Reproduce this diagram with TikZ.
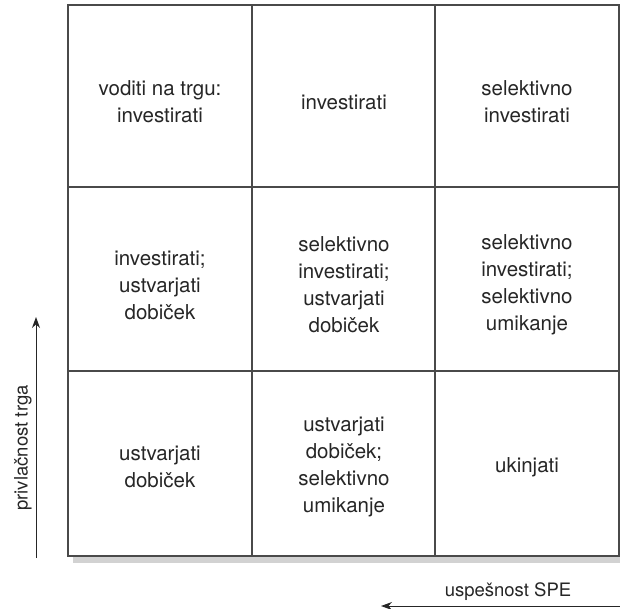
\documentclass[tikz,border=0pt]{standalone}
\usepackage{fontspec}
\setmainfont{TeX Gyre Heros}
\usetikzlibrary{arrows.meta}
\definecolor{txt}{HTML}{262626}
\definecolor{gridc}{HTML}{4A4A4A}
\definecolor{shadowc}{HTML}{D2D2D2}
\tikzset{
  cell/.style={text=txt, align=center, font=\fontsize{20.5}{27}\selectfont},
  gridline/.style={draw=gridc, line width=1.4pt},
  axis/.style={draw=txt, line width=1pt, -{Stealth[length=11pt,width=8pt]}},
  axislabel/.style={text=txt, font=\fontsize{18.5}{22}\selectfont}
}
\begin{document}
\begin{tikzpicture}[x=1pt,y=-1pt]
\useasboundingbox (0,0) rectangle (620,608);
% shadow
\fill[shadowc] (73,556) rectangle (620,563);
% grid
\coordinate (tl) at (68,5);
\coordinate (br) at (619,556);
\draw[gridline] (tl) rectangle (br);
\draw[gridline] (252,5) -- (252,556);
\draw[gridline] (435,5) -- (435,556);
\draw[gridline] (68,187) -- (619,187);
\draw[gridline] (68,371) -- (619,371);
% cells
\node[cell] (c11) at (160,102) {voditi na trgu:\\investirati};
\node[cell] (c12) at (344,102) {investirati};
\node[cell] (c13) at (527,102) {selektivno\\investirati};
\node[cell] (c21) at (160,285) {investirati;\\ustvarjati\\dobiček};
\node[cell] (c22) at (344,285) {selektivno\\investirati;\\ustvarjati\\dobiček};
\node[cell] (c23) at (527,285) {selektivno\\investirati;\\selektivno\\umikanje};
\node[cell] (c31) at (160,467) {ustvarjati\\dobiček};
\node[cell] (c32) at (344,467) {ustvarjati\\dobiček;\\selektivno\\umikanje};
\node[cell] (c33) at (527,467) {ukinjati};
% axes
\coordinate (va) at (36,558);
\coordinate (vb) at (36,317);
\draw[axis] (va) -- (vb);
\node[axislabel, rotate=90] (vl) at (23,448) {privlačnost trga};
\coordinate (ha) at (620,606);
\coordinate (hb) at (381,606);
\draw[axis] (ha) -- (hb);
\node[axislabel] (hl) at (508,592) {uspešnost SPE};
\end{tikzpicture}
\end{document}
